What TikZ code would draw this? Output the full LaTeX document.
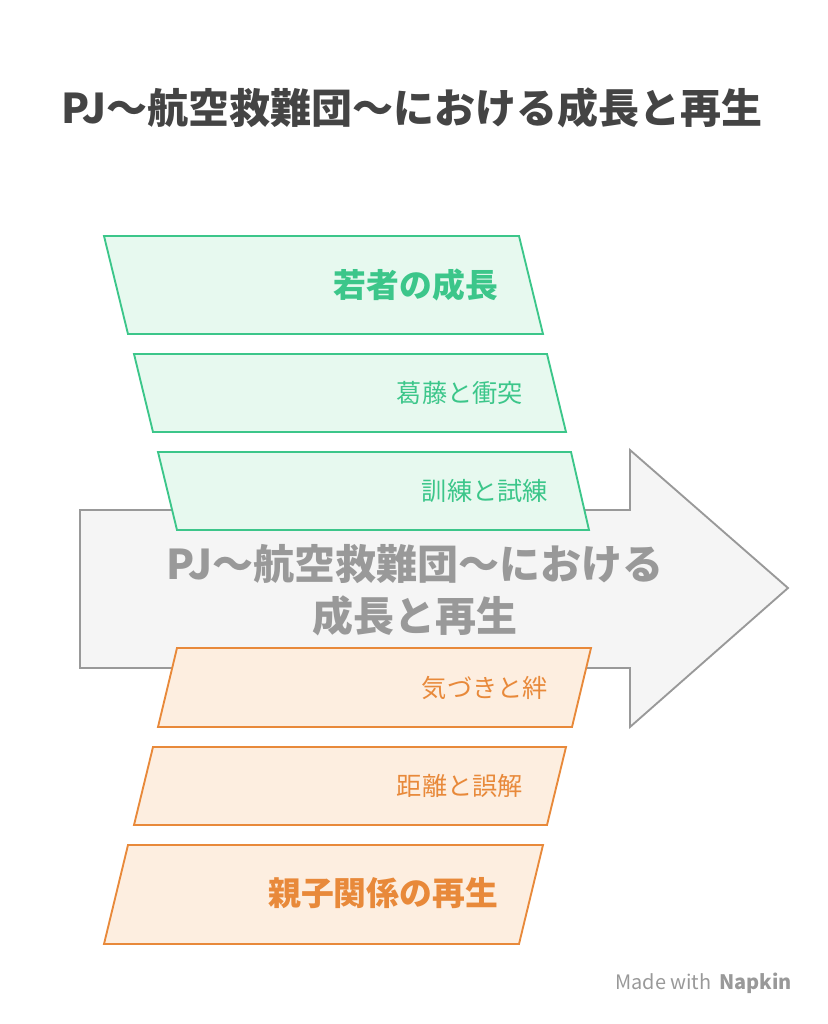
\documentclass[tikz,border=0pt]{standalone}
\usepackage{fontspec}
\setmainfont{Noto Sans CJK JP}
\definecolor{grn}{HTML}{3CC68A}
\definecolor{grnfill}{HTML}{E7F9EF}
\definecolor{org}{HTML}{E8893A}
\definecolor{orgfill}{HTML}{FDEEE0}
\definecolor{gry}{HTML}{999999}
\definecolor{dark}{HTML}{444444}
\tikzset{
  greenbox/.style = {draw=grn, fill=grnfill, line width=1.6pt},
  orangebox/.style = {draw=org, fill=orgfill, line width=1.6pt},
  biglabel/.style = {anchor=east, font=\fontsize{28}{32}\selectfont\bfseries},
  smalllabel/.style = {anchor=east, font=\fontsize{21.5}{24}\selectfont}
}
\begin{document}
\begin{tikzpicture}[x=0.03cm, y=-0.03cm]
\useasboundingbox (0,0) rectangle (827,1024);
\node[text=dark, font=\fontsize{35}{40}\selectfont\bfseries] (title) at (412,108) {PJ〜航空救難団〜における成長と再生};

%% the arrow
\draw[fill=gray!8, draw=gry, line width=1.6pt] (80,510) -- (630,510) -- (630,450) -- (788,588)
  -- (630,727) -- (630,668) -- (80,668) -- cycle;
\node[text=gry, font=\fontsize{35}{44}\selectfont\bfseries, align=center] (arrowtext) at (415,590)
  {PJ〜航空救難団〜における\\成長と再生};

%% green side
\draw[greenbox] (104,236) -- (519,236) -- (543,334) -- (128,334) -- cycle;
\node[biglabel, text=grn] (young) at (502,285) {若者の成長};
\draw[greenbox] (134,354) -- (547,354) -- (566,432) -- (153,432) -- cycle;
\node[smalllabel, text=grn] (conflict) at (527,393) {葛藤と衝突};
\draw[greenbox] (158,452) -- (571,452) -- (589,530) -- (177,530) -- cycle;
\node[smalllabel, text=grn] (training) at (552,491) {訓練と試練};

%% orange side
\draw[orangebox] (177,648) -- (591,648) -- (572,727) -- (158,727) -- cycle;
\node[smalllabel, text=org] (bond) at (552,688) {気づきと絆};
\draw[orangebox] (153,747) -- (566,747) -- (547,825) -- (134,825) -- cycle;
\node[smalllabel, text=org] (distance) at (527,786) {距離と誤解};
\draw[orangebox] (128,845) -- (543,845) -- (519,944) -- (104,944) -- cycle;
\node[biglabel, text=org] (rebirth) at (502,893) {親子関係の再生};

\node[text=gry, anchor=east, font=\fontsize{17}{20}\selectfont] (credit) at (796,983) {Made with \,\textbf{Napkin}};
\end{tikzpicture}
\end{document}
